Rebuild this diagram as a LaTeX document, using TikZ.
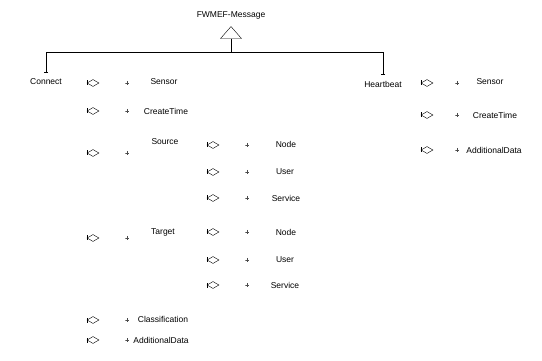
\documentclass[tikz,border=0pt]{standalone}
\usepackage{fontspec}
\setmainfont{Liberation Sans}
\usetikzlibrary{positioning, shapes.geometric, arrows.meta}

\tikzset{
  cls/.style={inner sep=6pt, font=\fontsize{8.5}{10}\selectfont},
  attr/.style={inner sep=1pt, font=\fontsize{8.5}{10}\selectfont},
  agg/.style={draw, diamond, inner sep=0pt, minimum width=12pt, minimum height=7pt,
    append after command={(\tikzlastnode.west) edge +(0,2.5) edge +(0,-2.5)}},
  tk/.style={inner sep=0pt, minimum size=4pt, draw=none, path picture={
    \draw[black!70] (path picture bounding box.north) -- (path picture bounding box.south)
      (path picture bounding box.west) -- (path picture bounding box.east);}}
}

\begin{document}
\begin{tikzpicture}[x=1pt, y=-1pt]
\useasboundingbox (0,0) rectangle (542,361);

  \node[attr] (msg) at (231,15) {FWMEF-Message};
  \node[draw, isosceles triangle, isosceles triangle stretches, shape border rotate=90,
    minimum width=21pt, minimum height=12pt, inner sep=0pt, below=6pt of msg] (tri) {};

  \node[cls] (connect) at (46,82) {Connect};
  \node[cls] (heartbeat) at (383,84) {Heartbeat};

  \coordinate (bar) at (231,52);
  \draw[thick] (tri.lower side) -- (bar);
  \draw[thick, -{Bar[width=4pt]}] (bar) -| (connect.north);
  \draw[thick, -{Bar[width=4pt]}] (bar) -| (heartbeat.north);

  \node[agg] (dc1) at (93,83) {};
  \node[agg] (dc2) at (93,111) {};
  \node[agg] (dc3) at (93,153) {};
  \node[agg] (dc4) at (93,238) {};
  \node[agg] (dc5) at (93,320) {};
  \node[agg] (dc6) at (93,340) {};

  \node[tk, right=26pt of dc1] (tc1) {};
  \node[tk, right=26pt of dc2] (tc2) {};
  \node[tk, right=26pt of dc3] (tc3) {};
  \node[tk, right=26pt of dc4] (tc4) {};
  \node[tk, right=26pt of dc5] (tc5) {};
  \node[tk, right=26pt of dc6] (tc6) {};

  \node[attr] (sensor1) at (164,82) {Sensor};
  \node[attr] (createtime1) at (166,111) {CreateTime};
  \node[attr] (source) at (165,142) {Source};
  \node[attr] (target) at (163,232) {Target};
  \node[attr] (classif) at (163,319) {Classification};
  \node[attr] (adddata1) at (161,340) {AdditionalData};

  \node[agg] (dm1) at (213,145) {};
  \node[agg] (dm2) at (213,172) {};
  \node[agg] (dm3) at (213,198) {};
  \node[agg] (dm4) at (213,232) {};
  \node[agg] (dm5) at (213,260) {};
  \node[agg] (dm6) at (213,285) {};

  \node[tk, right=26pt of dm1] (tm1) {};
  \node[tk, right=26pt of dm2] (tm2) {};
  \node[tk, right=26pt of dm3] (tm3) {};
  \node[tk, right=26pt of dm4] (tm4) {};
  \node[tk, right=26pt of dm5] (tm5) {};
  \node[tk, right=26pt of dm6] (tm6) {};

  \node[attr] (node1) at (286,144) {Node};
  \node[attr] (user1) at (285,172) {User};
  \node[attr] (service1) at (286,198) {Service};
  \node[attr] (node2) at (286,232) {Node};
  \node[attr] (user2) at (285,260) {User};
  \node[attr] (service2) at (285,285) {Service};

  \node[agg] (dh1) at (427,83) {};
  \node[agg] (dh2) at (427,115) {};
  \node[agg] (dh3) at (427,150) {};

  \node[tk, right=22pt of dh1] (th1) {};
  \node[tk, right=22pt of dh2] (th2) {};
  \node[tk, right=22pt of dh3] (th3) {};

  \node[attr] (sensor2) at (490,82) {Sensor};
  \node[attr] (createtime2) at (495,115) {CreateTime};
  \node[attr] (adddata2) at (494,150) {AdditionalData};

\end{tikzpicture}
\end{document}
